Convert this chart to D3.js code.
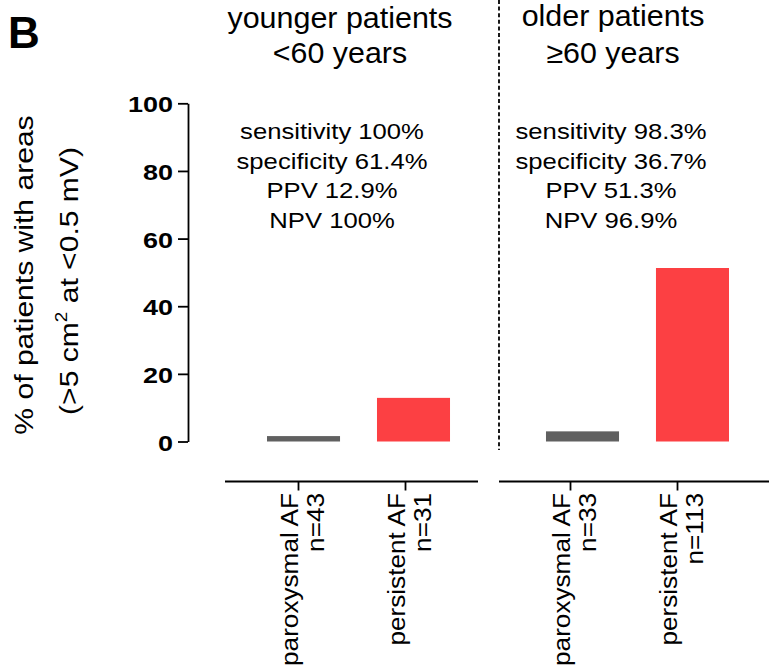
<!DOCTYPE html>
<html>
<head>
<meta charset="utf-8">
<script src="https://cdn.jsdelivr.net/npm/d3@7/dist/d3.min.js"></script>
<style>
  html, body { margin: 0; padding: 0; background: #fff; }
  svg { display: block; }
  text { font-family: "Liberation Sans", Arial, Helvetica, sans-serif; fill: #000; }
</style>
</head>
<body>
<svg id="chart" width="769" height="671"></svg>
<script>
// Age groups and AF types
const groups = ["younger", "older"];
const groupTitles = [["younger patients", "<60 years"], ["older patients", "\u226560 years"]];
const afTypes = ["paroxysmal", "persistent"];
const afLabels = ["paroxysmal AF", "persistent AF"];
// Percent of patients with low-voltage areas (>5 cm² at <0.5 mV)
const youngerValues = [1.6, 12.9];
const olderValues = [3.0, 51.3];
const youngerN = [43, 31];
const olderN = [33, 113];
// Diagnostic performance of persistent AF as predictor
const youngerStats = ["sensitivity 100%", "specificity 61.4%", "PPV 12.9%", "NPV 100%"];
const olderStats = ["sensitivity 98.3%", "specificity 36.7%", "PPV 51.3%", "NPV 96.9%"];
const yTicks = [0, 20, 40, 60, 80, 100];

const barColors = { paroxysmal: "#606060", persistent: "#fc4043" };

const svg = d3.select("#chart");

const values = { younger: youngerValues, older: olderValues };
const counts = { younger: youngerN, older: olderN };
const stats = { younger: youngerStats, older: olderStats };

// Scales
const y = d3.scaleLinear().domain([0, 100]).range([441.5, 103.3]);
const xGroup = d3.scaleBand().domain(groups).range([267, 729]).paddingInner(0.344).paddingOuter(0);
const xType = d3.scaleBand().domain(afTypes).range([0, xGroup.bandwidth()]).paddingInner(0.336).paddingOuter(0);

// Helper for text that is slightly widened along its direction
function label(parent, opt) {
  const t = parent.append("text")
    .attr("transform", `translate(${opt.x},${opt.y})` + (opt.rotate ? ` rotate(${opt.rotate})` : "") + ` scale(${opt.sx || 1},1)`)
    .attr("text-anchor", opt.anchor || "middle")
    .style("font-size", opt.size + "px")
    .style("font-weight", opt.weight || "normal");
  if (opt.text !== undefined) t.text(opt.text);
  return t;
}

// Panel letter
label(svg, { x: 8, y: 48, size: 44, weight: "bold", anchor: "start", text: "B" });

// Y axis
const yAxis = d3.axisLeft(y).tickValues(yTicks).tickSize(10).tickSizeOuter(0);
const gy = svg.append("g").attr("transform", "translate(188,0)").call(yAxis);
gy.select(".domain").attr("stroke", "#000").attr("stroke-width", 1.8);
gy.selectAll(".tick line").attr("stroke", "#000").attr("stroke-width", 1.8);
gy.selectAll(".tick text")
  .attr("x", null).attr("dy", "0.38em")
  .attr("transform", "translate(-15,0) scale(1.2,1)")
  .attr("text-anchor", "end")
  .style("font-family", "'Liberation Sans', Arial, sans-serif")
  .style("font-size", "22.5px").style("font-weight", "bold").attr("fill", "#000");

// Y axis title
label(svg, { x: 33, y: 275, rotate: -90, sx: 1.18, size: 25.5, text: "% of patients with areas" });
const yl2 = label(svg, { x: 78, y: 281, rotate: -90, sx: 1.18, size: 25.5 });
yl2.append("tspan").text("(>5 cm");
yl2.append("tspan").text("2").style("font-size", "16px").attr("dy", -11);
yl2.append("tspan").text(" at <0.5 mV)").attr("dy", 11);

// Separator between age groups
svg.append("line")
  .attr("x1", 499).attr("x2", 499).attr("y1", 0).attr("y2", 450)
  .attr("stroke", "#000").attr("stroke-width", 1.8).attr("stroke-dasharray", "4,2.6");

// Group titles and diagnostic stats
const titleX = { younger: 340, older: 613 };
const titleY1 = { younger: 28, older: 26 };
const statX = { younger: 332, older: 611 };
groups.forEach((g, gi) => {
  label(svg, { x: titleX[g], y: titleY1[g], size: 29, sx: 1.05, text: groupTitles[gi][0] });
  label(svg, { x: titleX[g], y: 63, size: 29.5, sx: 1.03, text: groupTitles[gi][1] });
  stats[g].forEach((s, i) => {
    label(svg, { x: statX[g], y: 139 + i * 29.7, size: 22.5, sx: 1.14, text: s });
  });
});

// Bars
groups.forEach(g => {
  const gg = svg.append("g").attr("transform", `translate(${xGroup(g)},0)`);
  gg.selectAll("rect")
    .data(afTypes.map((t, i) => ({ type: t, value: values[g][i] })))
    .join("rect")
    .attr("x", d => xType(d.type))
    .attr("width", xType.bandwidth())
    .attr("y", d => y(d.value))
    .attr("height", d => y(0) - y(d.value))
    .attr("fill", d => barColors[d.type]);
});

// Category axes below the bars (one per age group)
const axisSpan = { younger: [225, 478], older: [499, 769] };
const axisTicks = { younger: [298, 405], older: [570, 677] };
groups.forEach(g => {
  const xa = d3.scalePoint().domain(afTypes).range(axisTicks[g]);
  const ga = svg.append("g").attr("transform", "translate(0,481.5)")
    .call(d3.axisBottom(xa).tickSize(9).tickSizeOuter(0).tickFormat(""));
  ga.select(".domain").remove();
  ga.selectAll(".tick line").attr("stroke", "#000").attr("stroke-width", 1.8);
  ga.append("line")
    .attr("x1", axisSpan[g][0]).attr("x2", axisSpan[g][1])
    .attr("stroke", "#000").attr("stroke-width", 1.8);
  afTypes.forEach((t, i) => {
    const tx = xa(t);
    label(svg, { x: tx, y: 493, rotate: -90, sx: 1.09, size: 24, anchor: "end", text: afLabels[i] });
    label(svg, { x: tx + 26, y: 493, rotate: -90, sx: 1.09, size: 24, anchor: "end", text: "n=" + counts[g][i] });
  });
});
</script>
</body>
</html>
